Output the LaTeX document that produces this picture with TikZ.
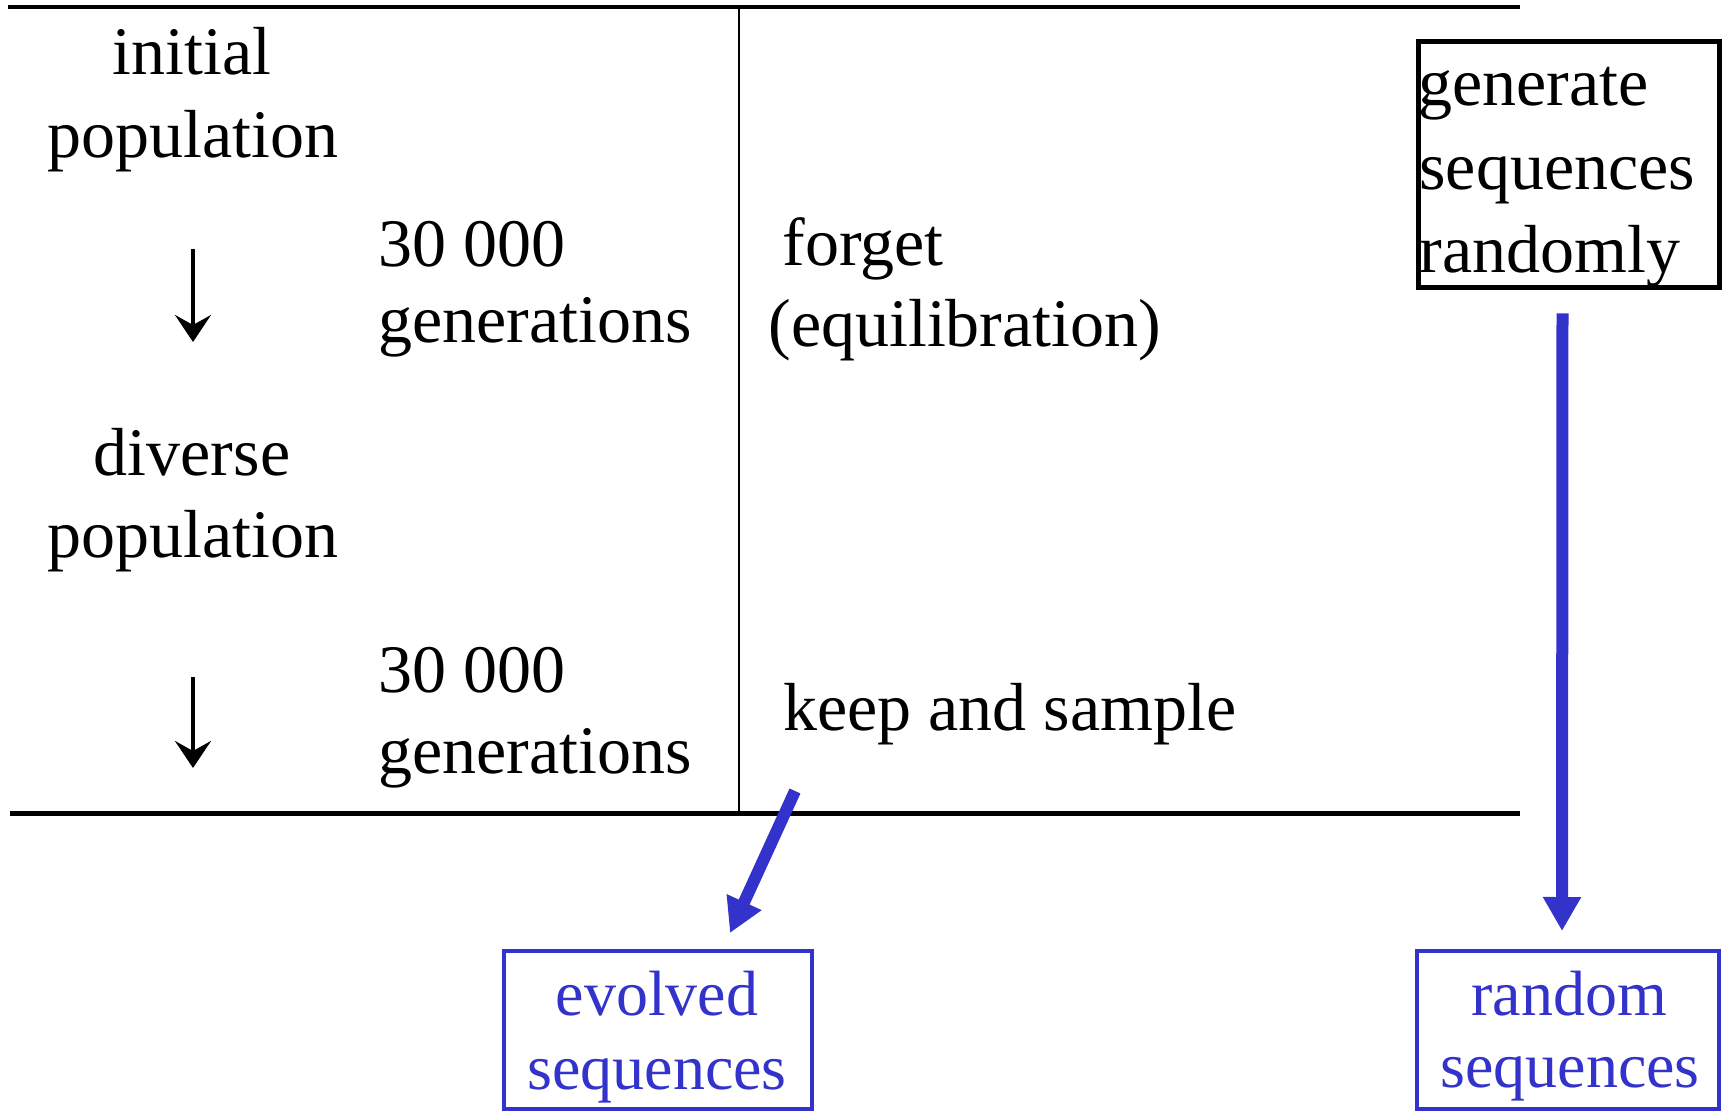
\documentclass[tikz,border=0pt]{standalone}
\usepackage{fontspec}
\setmainfont{Liberation Serif}
\usetikzlibrary{arrows.meta}
\definecolor{myblue}{RGB}{51,51,204}
\begin{document}
\begin{tikzpicture}[x=0.5pt,y=-0.5pt,
  txt/.style={inner sep=0pt, font=\fontsize{34pt}{38pt}\selectfont},
  btxt/.style={inner sep=0pt, font=\fontsize{32pt}{36pt}\selectfont, text=myblue},
  rule/.style={line width=2.2pt, black},
  blackbox/.style={draw=black, line width=2.5pt, inner sep=0pt},
  bluebox/.style={draw=myblue, line width=2pt, inner sep=0pt},
  bluearrow/.style={draw=myblue, line width=6pt, -{Triangle[length=17pt,width=18pt]}},
  downarrow/.style={line width=2pt, -{Stealth[length=13.5pt,width=18pt,inset=5pt]}}
]
\useasboundingbox (0,0) rectangle (1722,1111);
\clip (0,0) rectangle (1722,1111);
\fill[white] (0,0) rectangle (1722,1111);

% rules
\coordinate (tl) at (8,7);
\coordinate (tr) at (1520,7);
\coordinate (bl) at (10,813);
\coordinate (br) at (1520,813);
\coordinate (vt) at (739,7);
\coordinate (vb) at (739,813);
\draw[rule] (tl) -- (tr);
\draw[rule, line width=2.5pt] (bl) -- (br);
\draw[line width=1pt] (vt) -- (vb);

% left column
\node[txt, anchor=base] (init1) at (192,75) {initial};
\node[txt, anchor=base] (init2) at (193,158) {population};
\node[txt, anchor=base west] (g1a) at (378,267) {30 000};
\node[txt, anchor=base west] (g1b) at (378,343) {generations};
\node[txt, anchor=base] (div1) at (192,476) {diverse};
\node[txt, anchor=base] (div2) at (193,558) {population};
\node[txt, anchor=base west] (g2a) at (378,692) {30 000};
\node[txt, anchor=base west] (g2b) at (378,773) {generations};

\coordinate (a1s) at (193,249);
\coordinate (a1e) at (193,342);
\coordinate (a2s) at (193,677);
\coordinate (a2e) at (193,768);
\draw[downarrow] (a1s) -- (a1e);
\draw[downarrow] (a2s) -- (a2e);

% middle column
\node[txt, anchor=base west] (forget) at (782,266) {forget};
\node[txt, anchor=base west] (equil) at (768,347) {(equilibration)};
\node[txt, anchor=base west] (keep) at (783,730) {keep and sample};

% generate box
\node[blackbox, minimum width=150.5pt, minimum height=123pt] (gen) at (1568.5,165) {};
\node[txt, anchor=base west] (gen1) at (1418,106) {generate};
\node[txt, anchor=base west] (gen2) at (1419,190) {sequences};
\node[txt, anchor=base west] (gen3) at (1419,273) {randomly};

% output boxes
\node[bluebox, minimum width=154pt, minimum height=79pt] (evo) at (658,1030) {};
\node[btxt, anchor=base] (evo1) at (657,1015) {evolved};
\node[btxt, anchor=base] (evo2) at (657,1089) {sequences};

\node[bluebox, minimum width=151pt, minimum height=79pt] (rnd) at (1568,1030) {};
\node[btxt, anchor=base] (rnd1) at (1569,1015) {random};
\node[btxt, anchor=base] (rnd2) at (1570,1087) {sequences};

% blue arrows
\draw[bluearrow, shorten <=11.5pt, shorten >=9pt] ([xshift=-3pt]gen.south) -- ([xshift=-3pt]rnd.north);
\coordinate (ks) at (795,791);
\coordinate (evt) at (730,933);
\draw[bluearrow] (ks) -- (evt);
\end{tikzpicture}
\end{document}
